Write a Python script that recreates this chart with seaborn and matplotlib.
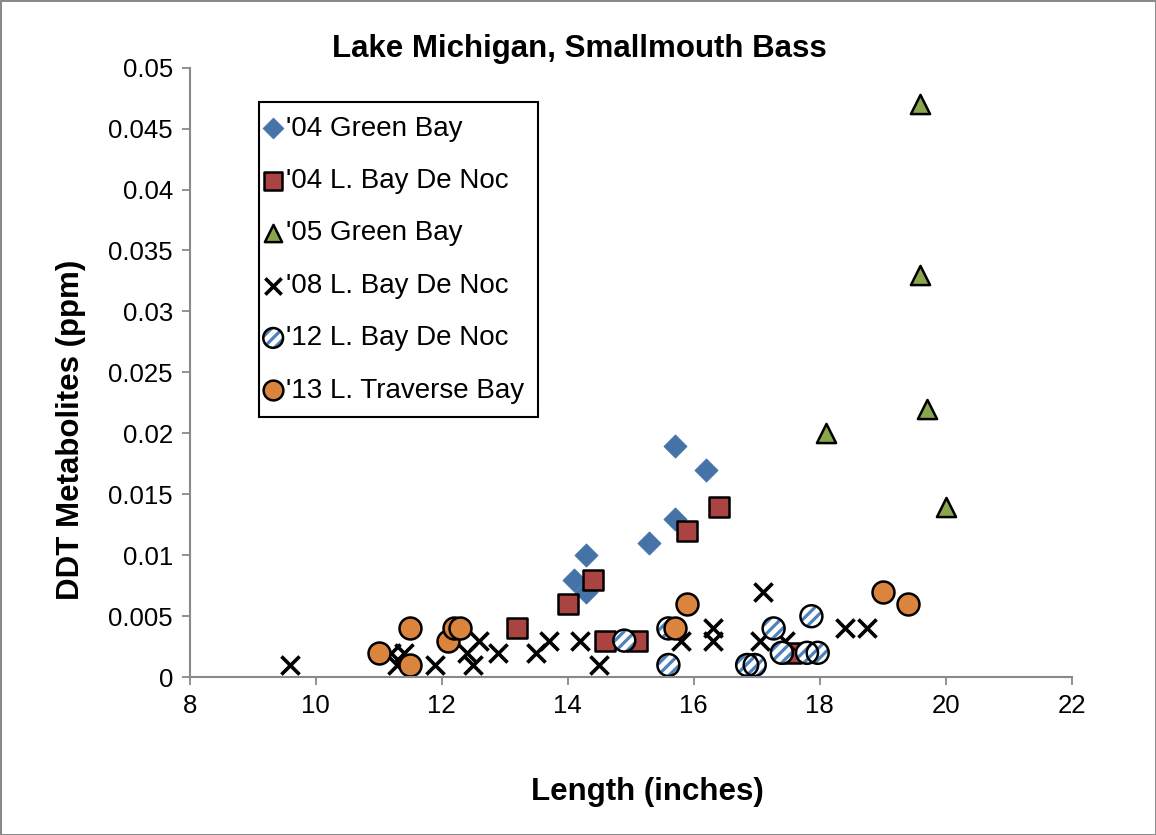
import matplotlib
matplotlib.use("Agg")
import matplotlib.pyplot as plt
import seaborn as sns
from matplotlib.legend_handler import HandlerTuple
from matplotlib.ticker import FuncFormatter

# '04 Green Bay
gb04_len = [14.1, 14.3, 14.3, 15.3, 15.7, 15.7, 16.2]
gb04_ddt = [0.008, 0.010, 0.007, 0.011, 0.019, 0.013, 0.017]
# '04 L. Bay De Noc
bdn04_len = [14.0, 14.4, 13.2, 14.6, 15.1, 15.9, 16.4, 17.55]
bdn04_ddt = [0.006, 0.008, 0.004, 0.003, 0.003, 0.012, 0.014, 0.002]
# '05 Green Bay
gb05_len = [18.1, 19.6, 19.6, 19.7, 20.0]
gb05_ddt = [0.020, 0.047, 0.033, 0.022, 0.014]
# '08 L. Bay De Noc
bdn08_len = [9.6, 11.2, 11.4, 11.3, 11.9, 12.4, 12.5, 12.6, 12.9, 13.5, 13.7,
             14.2, 14.5, 15.8, 16.3, 16.3, 17.05, 17.1, 17.45, 18.4, 18.75]
bdn08_ddt = [0.001, 0.002, 0.002, 0.001, 0.001, 0.002, 0.001, 0.003, 0.002, 0.002, 0.003,
             0.003, 0.001, 0.003, 0.004, 0.003, 0.003, 0.007, 0.003, 0.004, 0.004]
# '12 L. Bay De Noc
bdn12_len = [14.9, 15.6, 15.6, 16.85, 16.97, 17.27, 17.4, 17.8, 17.87, 17.97]
bdn12_ddt = [0.003, 0.004, 0.001, 0.001, 0.001, 0.004, 0.002, 0.002, 0.005, 0.002]
# '13 L. Traverse Bay
tb13_len = [11.0, 11.5, 11.5, 12.1, 12.2, 12.3, 15.7, 15.9, 19.0, 19.4]
tb13_ddt = [0.002, 0.004, 0.001, 0.003, 0.004, 0.004, 0.004, 0.006, 0.007, 0.006]

HATCH_BLUE = "#4F81BD"

sns.set_theme(style="white")
plt.rcParams["font.family"] = ["Liberation Sans", "DejaVu Sans"]
plt.rcParams["text.color"] = "black"
plt.rcParams["axes.labelcolor"] = "black"
plt.rcParams["hatch.color"] = HATCH_BLUE
plt.rcParams["hatch.linewidth"] = 2.3

fig = plt.figure(figsize=(11.56, 8.35), dpi=100)
ax = fig.add_axes([0.164, 0.189, 0.763, 0.730])

sns.scatterplot(x=gb04_len, y=gb04_ddt, marker="D", s=140, color="#4572A7",
                edgecolor="#4572A7", linewidth=0.5, label="'04 Green Bay", ax=ax)
sns.scatterplot(x=bdn04_len, y=bdn04_ddt, marker="s", s=190, color="#A94442",
                edgecolor="black", linewidth=1.8, label="'04 L. Bay De Noc", ax=ax)
sns.scatterplot(x=gb05_len, y=gb05_ddt, marker="^", s=190, color="#89A54E",
                edgecolor="black", linewidth=1.8, label="'05 Green Bay", ax=ax)
sns.scatterplot(x=bdn08_len, y=bdn08_ddt, marker="x", s=170, color="black",
                linewidth=2.6, label="'08 L. Bay De Noc", ax=ax)

# hatched circles: blue stripes on white, then a black outline on top
sns.scatterplot(x=bdn12_len, y=bdn12_ddt, marker="o", s=250, color="white",
                edgecolor=HATCH_BLUE, linewidth=0, ax=ax)
stripes = ax.collections[-1]
stripes.set_hatch("///")
sns.scatterplot(x=bdn12_len, y=bdn12_ddt, marker="o", s=250, color="none",
                edgecolor="black", linewidth=1.8, ax=ax)
outline = ax.collections[-1]

sns.scatterplot(x=tb13_len, y=tb13_ddt, marker="o", s=250, color="#DB843D",
                edgecolor="black", linewidth=1.8, label="'13 L. Traverse Bay", ax=ax)

ax.set_xlim(8, 22)
ax.set_ylim(0, 0.05)
ax.set_xticks(range(8, 23, 2))
ax.set_yticks([i * 0.005 for i in range(11)])
ax.yaxis.set_major_formatter(FuncFormatter(lambda v, p: f"{round(v, 4):g}"))
ax.tick_params(axis="both", labelsize=18.5, length=6, width=1.3, color="#898989",
               labelcolor="black", direction="out", bottom=True, left=True, pad=6)
for side in ["top", "right"]:
    ax.spines[side].set_visible(False)
for side in ["left", "bottom"]:
    ax.spines[side].set_color("#898989")
    ax.spines[side].set_linewidth(1.5)

ax.set_title("Lake Michigan, Smallmouth Bass", fontsize=22.5, fontweight="bold",
             pad=8, x=0.442, color="black")
ax.set_xlabel("Length (inches)", fontsize=22.5, fontweight="bold")
ax.set_ylabel("DDT Metabolites (ppm)", fontsize=22.5, fontweight="bold")
ax.xaxis.set_label_coords(0.519, -0.163)
ax.yaxis.set_label_coords(-0.118, 0.406)

handles, labels = ax.get_legend_handles_labels()
handles.insert(4, (stripes, outline))
labels.insert(4, "'12 L. Bay De Noc")
leg = ax.legend(handles, labels, loc="upper left", bbox_to_anchor=(0.079, 0.944),
                fontsize=20, frameon=True, fancybox=False, edgecolor="black",
                framealpha=1, labelspacing=0.95, handletextpad=0.45,
                handlelength=0.0, borderpad=0.5, borderaxespad=0, markerscale=0.9,
                handler_map={tuple: HandlerTuple(ndivide=1)})
leg.get_frame().set_linewidth(1.5)

fig.patch.set_edgecolor("#898989")
fig.patch.set_linewidth(2)

fig.savefig("out.png", dpi=100, edgecolor=fig.get_edgecolor())
